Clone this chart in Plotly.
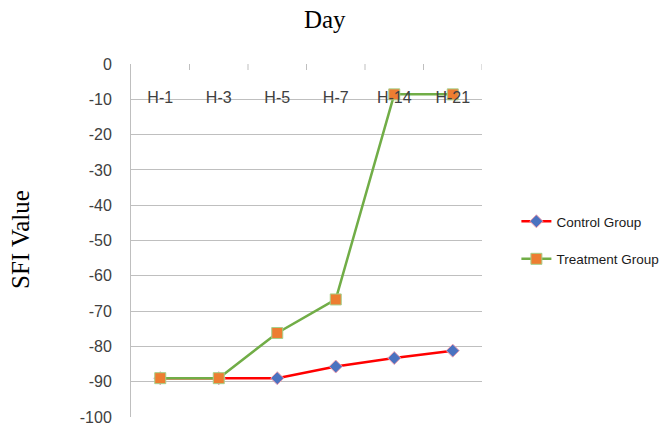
import plotly.graph_objects as go

# Day labels and SFI values per group
days = ["H-1", "H-3", "H-5", "H-7", "H-14", "H-21"]
control_sfi = [-89.0, -89.0, -89.0, -85.7, -83.3, -81.2]
treatment_sfi = [-89.0, -89.0, -76.2, -66.7, -8.6, -8.6]
y_ticks = [0, -10, -20, -30, -40, -50, -60, -70, -80, -90, -100]

PLOT_L, PLOT_T, PLOT_W, PLOT_H = 131, 64, 351, 353

fig = go.Figure()

fig.add_trace(go.Scatter(
    x=days, y=control_sfi, name="Control Group", mode="lines+markers",
    legendgroup="c",
    line=dict(color="#ff0000", width=2.5),
    marker=dict(symbol="diamond", size=10, color="#4a72c0",
                line=dict(color="#f0a0b0", width=1)),
))
fig.add_trace(go.Scatter(
    x=days, y=treatment_sfi, name="Treatment Group", mode="lines+markers",
    legendgroup="t",
    line=dict(color="#71ad47", width=2.5),
    marker=dict(symbol="square", size=11, color="#ed7d31",
                line=dict(color="#a6d08a", width=1)),
))

fig.update_layout(
    width=660, height=428,
    margin=dict(l=PLOT_L, r=660 - PLOT_L - PLOT_W, t=PLOT_T, b=428 - PLOT_T - PLOT_H,
                autoexpand=False),
    paper_bgcolor="white", plot_bgcolor="white",
    title=dict(text="Day", x=0.492, xanchor="center", y=0.955, yanchor="middle",
               font=dict(family="Liberation Serif, Times New Roman, serif",
                         size=25, color="#000000")),
    legend=dict(x=1.098, y=0.5, xanchor="left", yanchor="middle",
                font=dict(family="Liberation Sans, Arial, sans-serif",
                          size=13.5, color="#1a1a1a"),
                tracegroupgap=17, bgcolor="rgba(0,0,0,0)"),
    showlegend=True,
)
fig.add_annotation(
    text="SFI Value", textangle=-90, showarrow=False,
    xref="paper", yref="paper",
    x=(20 - PLOT_L) / PLOT_W, y=(PLOT_T + PLOT_H - 240) / PLOT_H,
    xanchor="center", yanchor="middle",
    font=dict(family="Liberation Serif, Times New Roman, serif", size=25, color="#000000"),
)

# category axis floats just below the zero line, labels only
fig.update_xaxes(
    type="category", categoryorder="array", categoryarray=days,
    range=[-0.5, len(days) - 0.5],
    anchor="free", position=(PLOT_T + PLOT_H - 86) / PLOT_H, automargin=False,
    showgrid=False, showline=False, zeroline=False,
    ticks="", tickfont=dict(family="Liberation Sans, Arial, sans-serif",
                            size=16, color="#404040"),
)
fig.update_yaxes(
    range=[-100, 0], tickvals=y_ticks,
    ticktext=[str(v) for v in y_ticks],
    showgrid=True, gridcolor="#bfbfbf", gridwidth=1,
    zeroline=False, showline=True, linecolor="#bfbfbf", linewidth=1,
    ticks="", ticklabelstandoff=15, automargin=False,
    tickfont=dict(family="Liberation Sans, Arial, sans-serif", size=16, color="#404040"),
)

# short ticks hanging below the zero line, between days
for i in range(len(days)):
    fig.add_shape(type="line", xref="x", yref="paper",
                  x0=i + 0.5, x1=i + 0.5, y0=1, y1=1 - 6 / PLOT_H,
                  line=dict(color="#bfbfbf", width=1))

fig.write_html("out.html")
